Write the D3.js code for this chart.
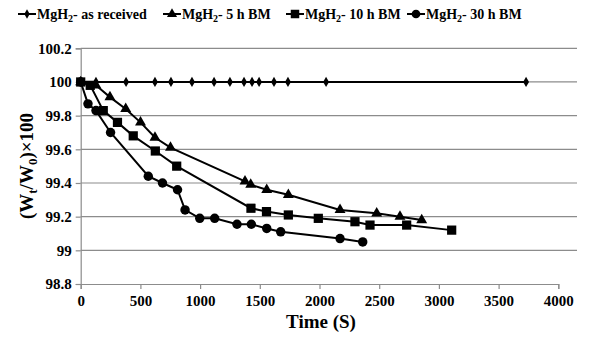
<!DOCTYPE html>
<html><head><meta charset="utf-8">
<script src="https://cdn.jsdelivr.net/npm/d3@7"></script>
<style>
body{margin:0;background:#fff}
svg{display:block}
text{font-family:"Liberation Serif","Times New Roman",serif;font-weight:bold;fill:#000}
</style>
</head><body>
<svg id="c" width="600" height="341"></svg>
<script>
// ---- data ----
const seriesLabels = ["as received", "5 h BM", "10 h BM", "30 h BM"];
const asReceivedTime = [0, 128, 380, 622, 756, 932, 1117, 1250, 1368, 1435, 1494, 1619, 1736, 2055, 3730];
const asReceivedValue = [100, 100, 100, 100, 100, 100, 100, 100, 100, 100, 100, 100, 100, 100, 100];
const bm5Time = [0, 128, 245, 377, 501, 622, 752, 1376, 1424, 1558, 1739, 2172, 2479, 2674, 2856];
const bm5Value = [100, 99.98, 99.91, 99.84, 99.76, 99.67, 99.61, 99.41, 99.39, 99.36, 99.33, 99.24, 99.22, 99.20, 99.18];
const bm10Time = [0, 80, 189, 308, 440, 625, 804, 1426, 1556, 1739, 1990, 2297, 2423, 2730, 3107];
const bm10Value = [100, 99.98, 99.83, 99.76, 99.68, 99.59, 99.50, 99.25, 99.23, 99.21, 99.19, 99.17, 99.15, 99.15, 99.12];
const bm30Time = [0, 61, 128, 250, 566, 685, 811, 874, 997, 1122, 1309, 1429, 1558, 1675, 2172, 2362];
const bm30Value = [100, 99.87, 99.83, 99.70, 99.44, 99.40, 99.36, 99.24, 99.19, 99.19, 99.155, 99.155, 99.13, 99.11, 99.07, 99.05];
const xTicks = [0, 500, 1000, 1500, 2000, 2500, 3000, 3500, 4000];
const yTicks = [98.8, 99, 99.2, 99.4, 99.6, 99.8, 100, 100.2];

const series = [
  {t: asReceivedTime, v: asReceivedValue, sym: d3.symbolDiamond, size: 30},
  {t: bm5Time, v: bm5Value, sym: d3.symbolTriangle, size: 52},
  {t: bm10Time, v: bm10Value, sym: d3.symbolSquare, size: 85},
  {t: bm30Time, v: bm30Value, sym: d3.symbolCircle, size: 70}
];

const svg = d3.select("#c");
const x = d3.scaleLinear().domain([0, 4000]).range([80.7, 558.3]);
const y = d3.scaleLinear().domain([98.8, 100.2]).range([284, 48.3]);

// gridlines
svg.append("g").selectAll("line").data(yTicks.filter(d => d > 98.8)).join("line")
  .attr("x1", x(0)).attr("x2", 577).attr("y1", d => y(d)).attr("y2", d => y(d))
  .attr("stroke", "#8c8c8c").attr("stroke-width", 1.2);

// axes
const xAxis = svg.append("g").attr("transform", `translate(0,${y(98.8)})`)
  .call(d3.axisBottom(x).tickValues(xTicks).tickFormat(d3.format("d")).tickSizeOuter(0).tickSize(5).tickPadding(6));
const yAxis = svg.append("g").attr("transform", `translate(${x(0)},0)`)
  .call(d3.axisLeft(y).tickValues(yTicks).tickFormat(d => String(+d.toFixed(1))).tickSizeOuter(0).tickSize(5).tickPadding(4));
[xAxis, yAxis].forEach(g => {
  g.select(".domain").attr("stroke", "#8c8c8c").attr("stroke-width", 1.2);
  g.selectAll(".tick line").attr("stroke", "#8c8c8c").attr("stroke-width", 1.2);
  g.selectAll(".tick text").style("font-family", '"Liberation Serif",serif').style("font-weight", "bold")
    .style("font-size", "15px").attr("fill", "#000");
});

// series
const line = d3.line();
series.forEach(s => {
  const pts = s.t.map((t, i) => [x(t), y(s.v[i])]);
  svg.append("path").attr("d", line(pts)).attr("fill", "none").attr("stroke", "#000").attr("stroke-width", 2);
  svg.append("g").selectAll("path").data(pts).join("path")
    .attr("transform", d => `translate(${d[0]},${d[1]})`)
    .attr("d", d3.symbol(s.sym, s.size)).attr("fill", "#000");
});

// legend
const legX = [18, 163, 286, 407];
const lg = svg.append("g");
series.forEach((s, i) => {
  const g = lg.append("g").attr("transform", `translate(${legX[i]},14)`);
  g.append("line").attr("x1", 0).attr("x2", 18).attr("stroke", "#000").attr("stroke-width", 2);
  g.append("path").attr("transform", "translate(9,0)").attr("d", d3.symbol(s.sym, s.size * 0.85)).attr("fill", "#000");
  const t = g.append("text").attr("x", 19).attr("y", 5).style("font-size", "14px");
  t.append("tspan").text("MgH");
  t.append("tspan").text("2").style("font-size", "10px").attr("dy", 3);
  t.append("tspan").text("- " + seriesLabels[i]).attr("dy", -3);
});

// axis titles
svg.append("text").attr("x", 321).attr("y", 328).attr("text-anchor", "middle").style("font-size", "19px").text("Time (S)");
const yt = svg.append("text").attr("transform", "translate(33,166) rotate(-90)").attr("text-anchor", "middle").style("font-size", "19px");
yt.append("tspan").text("(W");
yt.append("tspan").text("t").style("font-size", "13px").attr("dy", 4);
yt.append("tspan").text("/W").attr("dy", -4);
yt.append("tspan").text("0").style("font-size", "13px").attr("dy", 4);
yt.append("tspan").text(")×100").attr("dy", -4);
</script>
</body></html>
